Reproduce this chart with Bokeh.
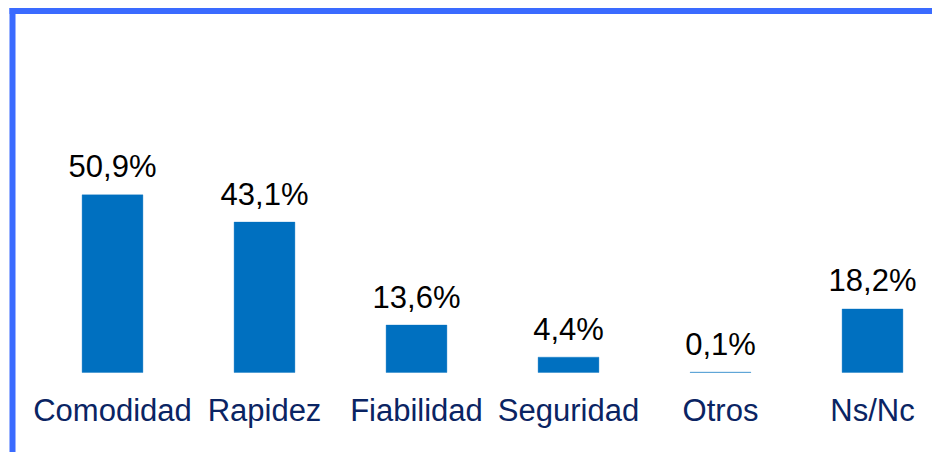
from bokeh.plotting import figure
from bokeh.models import Range1d, ColumnDataSource, BoxAnnotation
from bokeh.core.properties import value
from bokeh.embed import file_html
from bokeh.resources import INLINE

categories = ["Comodidad", "Rapidez", "Fiabilidad", "Seguridad", "Otros", "Ns/Nc"]
values = [50.9, 43.1, 13.6, 4.4, 0.1, 18.2]
value_labels = ["50,9%", "43,1%", "13,6%", "4,4%", "0,1%", "18,2%"]

xs = list(range(len(categories)))
src = ColumnDataSource(dict(x=xs, top=values, cat=categories, lab=value_labels, zero=[0] * len(xs)))

W, H = 932, 452
# layout (pixels): first category centre, category spacing, baseline, pixels per percent
X0, DX, BASE, PPU = 112.0, 152.0, 372.0, 3.49
x_start = -X0 / DX
x_end = x_start + W / DX
y_start = -(H - BASE) / PPU
y_end = BASE / PPU

def px_x(px):
    return x_start + px / DX

def px_y(py):
    return (BASE - py) / PPU

p = figure(width=W, height=H, output_backend="svg", toolbar_location=None,
           x_range=Range1d(x_start, x_end), y_range=Range1d(y_start, y_end))
p.min_border_left = 0
p.min_border_top = 0
p.min_border_right = 0
p.min_border_bottom = 0
p.border_fill_color = "white"
p.background_fill_color = "white"
p.outline_line_color = None
p.axis.visible = False
p.grid.visible = False

blue = "#3A6BFF"
p.add_layout(BoxAnnotation(left=px_x(9), top=px_y(7.5), bottom=px_y(13.5),
                           fill_color=blue, fill_alpha=1, line_color=None))
p.add_layout(BoxAnnotation(left=px_x(9), right=px_x(15), top=px_y(7.5),
                           fill_color=blue, fill_alpha=1, line_color=None))

p.vbar(x="x", top="top", bottom=0, width=0.4, source=src,
       fill_color="#0070C0", line_color="#0070C0", line_alpha=0.35, line_width=1)

p.text(x="x", y="top", text="lab", source=src, text_align="center",
       text_baseline="alphabetic", y_offset=-28,
       text_font=value("Liberation Sans"), text_font_size="31px", text_color="#000000")

p.text(x="x", y="zero", text="cat", source=src, text_align="center",
       text_baseline="alphabetic", y_offset=38,
       text_font=value("Liberation Sans"), text_font_size="31px", text_color="#0A2463")

open("out.html", "w").write(file_html(p, INLINE))
